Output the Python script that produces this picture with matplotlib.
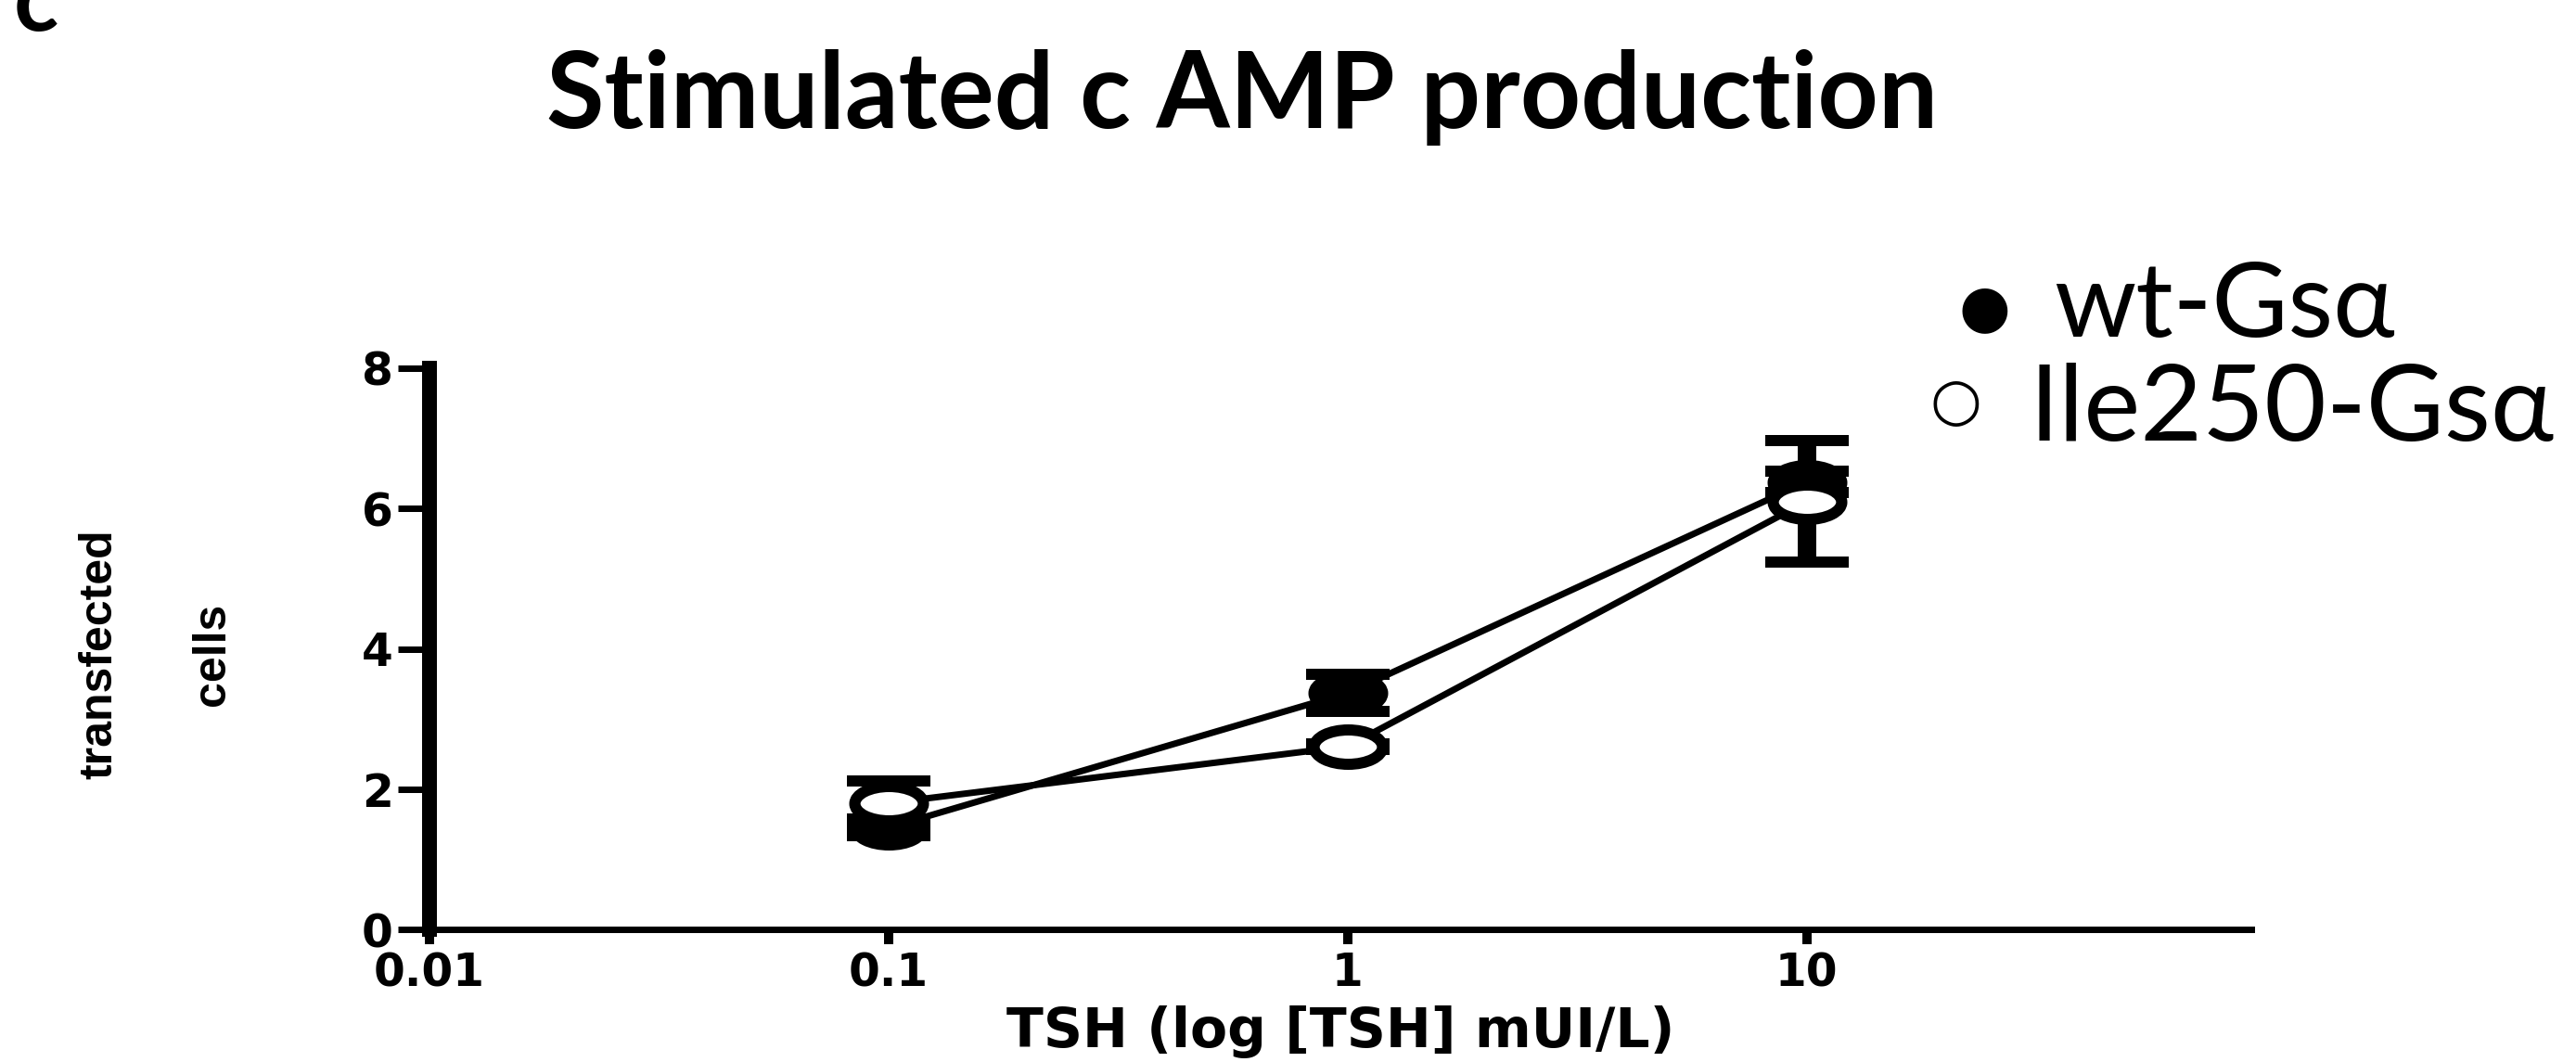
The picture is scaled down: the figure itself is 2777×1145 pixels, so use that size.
import matplotlib.pyplot as plt
import matplotlib.transforms as mtransforms
from matplotlib.path import Path
import numpy as np

# data
tsh = [0.1, 1, 10]
wt_mean = [1.45, 3.37, 6.38]
wt_sem = [0.12, 0.26, 0.15]
ile_mean = [1.80, 2.61, 6.10]
ile_sem = [0.32, 0.04, 0.87]

x_ticks = [0.01, 0.1, 1, 10]
x_tick_labels = ["0.01", "0.1", "1", "10"]
y_ticks = [0, 2, 4, 6, 8]

W, H = 2777, 1145
PT = 0.72  # px -> pt at dpi 100

plt.rcParams['font.family'] = ['DejaVu Sans']

fig = plt.figure(figsize=(W / 100, H / 100), dpi=100)
ax = fig.add_axes([463 / W, 1 - 1002 / H, (2427 - 463) / W, (1002 - 397) / H])
ax.set_xscale('log')
ax.set_xlim(0.01, 93)
ax.set_ylim(0, 8)

# the original graph was stretched sideways, so the markers are wide ellipses
ellipse = Path.unit_circle().transformed(mtransforms.Affine2D().scale(1.0, 0.5))

common = dict(lw=7 * PT, color='black', elinewidth=20 * PT, capsize=45 * PT,
              capthick=8 * PT, marker=ellipse, markersize=74 * PT,
              markeredgewidth=12 * PT, markeredgecolor='black', clip_on=False)
ax.errorbar(tsh, wt_mean, yerr=wt_sem, markerfacecolor='black', zorder=3, **common)
ax.errorbar(tsh, ile_mean, yerr=ile_sem, markerfacecolor='white', zorder=4, **common)

for s in ['top', 'right']:
    ax.spines[s].set_visible(False)
ax.spines['left'].set_linewidth(16 * PT)
ax.spines['bottom'].set_linewidth(7 * PT)

ax.set_xticks(x_ticks)
ax.set_xticklabels(x_tick_labels)
ax.minorticks_off()
ax.set_yticks(y_ticks)
ax.tick_params(axis='y', direction='out', length=34 * PT, width=7 * PT, pad=5 * PT,
               labelsize=35)
ax.tick_params(axis='x', direction='out', length=16 * PT, width=10 * PT, pad=7 * PT,
               labelsize=35)
for lab in ax.get_xticklabels() + ax.get_yticklabels():
    lab.set_fontweight('bold')

ax.set_xlabel("TSH (log [TSH] mUI/L)", fontsize=42, fontweight='bold', labelpad=8)
ax.text(-0.150, 0.49, "transfected\ncells", transform=ax.transAxes, rotation=90,
        ha='center', va='center', fontsize=36, fontweight='bold', linespacing=3.1,
        family=['Liberation Sans', 'DejaVu Sans'])

# title, panel letter and legend text (slide text, Calibri-like)
ttl_font = ['Lato', 'DejaVu Sans']
fig.text(1339 / W, 1 - 138 / H, "Stimulated c AMP production", ha='center',
         va='baseline', fontsize=82, fontweight='bold', family=ttl_font)
fig.text(15 / W, 1 - 33 / H, "c", ha='left', va='baseline', fontsize=72,
         fontweight='bold', family=ttl_font)

fig.text(2139 / W, 1 - 333 / H, "\u25CF", ha='center', va='center', fontsize=46,
         family=['DejaVu Sans'])
fig.text(2214 / W, 1 - 363 / H, "wt-Gs\u03b1", ha='left', va='baseline', fontsize=81,
         family=ttl_font)
fig.text(2108 / W, 1 - 434 / H, "\u25CB", ha='center', va='center', fontsize=46,
         family=['DejaVu Sans'])
fig.text(2187 / W, 1 - 475 / H, "Ile250-Gs\u03b1", ha='left', va='baseline', fontsize=83,
         family=ttl_font)

fig.savefig("out.png", dpi=100)
